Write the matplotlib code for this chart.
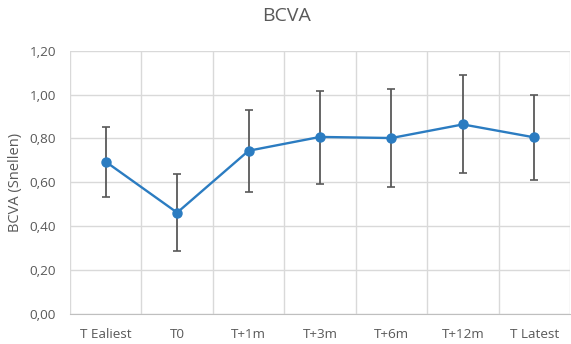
import matplotlib.pyplot as plt
from matplotlib.ticker import FuncFormatter, MultipleLocator


TIMEPOINTS = ["T Ealiest", "T0", "T+1m", "T+3m", "T+6m", "T+12m", "T Latest"]
BCVA_MEAN = [0.694, 0.462, 0.744, 0.807, 0.802, 0.864, 0.805]
BCVA_ERR_LOW = [0.159, 0.173, 0.187, 0.213, 0.225, 0.221, 0.196]
BCVA_ERR_HIGH = [0.160, 0.177, 0.187, 0.209, 0.222, 0.224, 0.193]

LINE_BLUE = "#2b7cc1"
TEXT_GRAY = "#595959"
GRID_GRAY = "#d9d9d9"


def comma_decimal(value, _pos):
    return f"{value:.2f}".replace(".", ",")


def main() -> None:
    plt.rcParams["font.family"] = ["Open Sans", "DejaVu Sans"]

    fig = plt.figure(figsize=(5.71, 3.44), dpi=100)
    ax = fig.add_axes([70 / 571, 30 / 344, 500 / 571, 263.3 / 344])

    x = list(range(len(TIMEPOINTS)))
    ax.errorbar(
        x,
        BCVA_MEAN,
        yerr=[BCVA_ERR_LOW, BCVA_ERR_HIGH],
        color=LINE_BLUE,
        linewidth=1.7,
        marker="o",
        markersize=6.5,
        ecolor="#595959",
        elinewidth=1.3,
        capsize=2.7,
        capthick=1.2,
        zorder=3,
    )

    ax.set_xlim(-0.5, len(TIMEPOINTS) - 0.5)
    ax.set_ylim(0, 1.2)
    ax.yaxis.set_major_locator(MultipleLocator(0.2))
    ax.yaxis.set_major_formatter(FuncFormatter(comma_decimal))
    ax.set_xticks(x)
    ax.set_xticklabels(TIMEPOINTS)

    # horizontal gridlines plus a border around every category
    ax.grid(axis="y", color=GRID_GRAY, linewidth=1)
    for i in range(len(TIMEPOINTS) + 1):
        ax.axvline(i - 0.5, color=GRID_GRAY, linewidth=1, zorder=0)
    ax.set_axisbelow(True)

    ax.tick_params(length=0)
    ax.tick_params(axis="both", labelsize=9.7, colors=TEXT_GRAY)
    ax.tick_params(axis="x", pad=10)
    ax.tick_params(axis="y", pad=10)

    for side in ["top", "right", "left"]:
        ax.spines[side].set_visible(False)
    ax.spines["bottom"].set_color("#bfbfbf")

    ax.set_ylabel("BCVA (Snellen)", fontsize=10.5, color=TEXT_GRAY, labelpad=5)
    fig.text(287 / 571, 1 - 16 / 344, "BCVA", ha="center", va="center",
             fontsize=14, color=TEXT_GRAY)

    fig.savefig("out.png", dpi=100)
    plt.close(fig)


if __name__ == "__main__":
    main()
